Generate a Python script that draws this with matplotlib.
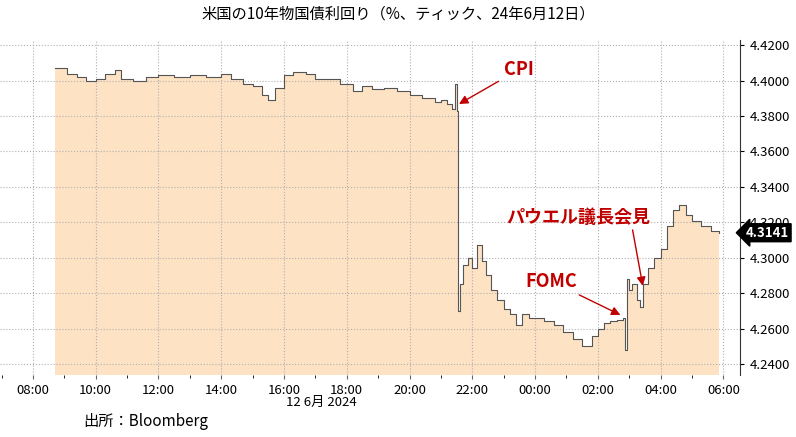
import numpy as np
import matplotlib
matplotlib.use('Agg')
from matplotlib import pyplot as plt

plt.rcParams['font.family'] = ['Noto Sans CJK JP', 'DejaVu Sans']

# hours since 00:00 on 12 Jun (values > 24 are next day)
hours = [8.7, 9.1, 9.4, 9.7, 10.0, 10.3, 10.6, 10.8, 11.2, 11.6, 12.0, 12.5, 13.0, 13.5, 14.0,
         14.3, 14.7, 15.0, 15.3, 15.5, 15.7, 16.0, 16.3, 16.7, 17.0, 17.4, 17.8, 18.2, 18.5,
         18.8, 19.2, 19.6, 20.0, 20.4, 20.8, 21.0, 21.2, 21.35, 21.45, 21.5, 21.55, 21.6,
         21.7, 21.85, 22.0, 22.15, 22.3, 22.45, 22.6, 22.8, 23.0, 23.2, 23.4, 23.6, 23.8,
         24.0, 24.3, 24.6, 24.9, 25.2, 25.5, 25.8, 26.0, 26.2, 26.4, 26.6, 26.8, 26.88,
         26.92, 27.0, 27.1, 27.25, 27.35, 27.45, 27.6, 27.8, 28.0, 28.2, 28.4, 28.6, 28.8,
         29.0, 29.3, 29.6, 29.85]
yields = [4.407, 4.404, 4.402, 4.400, 4.401, 4.404, 4.406, 4.401, 4.400, 4.402, 4.403, 4.402,
          4.403, 4.402, 4.404, 4.401, 4.398, 4.397, 4.392, 4.389, 4.396, 4.403, 4.405, 4.404,
          4.401, 4.401, 4.398, 4.394, 4.397, 4.395, 4.396, 4.394, 4.392, 4.390, 4.388, 4.389,
          4.387, 4.384, 4.398, 4.383, 4.270, 4.285, 4.296, 4.300, 4.294, 4.307, 4.298, 4.290,
          4.282, 4.276, 4.271, 4.268, 4.262, 4.268, 4.266, 4.266, 4.264, 4.262, 4.258, 4.254,
          4.250, 4.256, 4.260, 4.263, 4.264, 4.265, 4.266, 4.248, 4.288, 4.282, 4.285, 4.276,
          4.272, 4.285, 4.294, 4.300, 4.305, 4.318, 4.327, 4.330, 4.324, 4.321, 4.318, 4.315,
          4.314]
tick_hours = list(range(8, 31, 2))
tick_labels = ['%02d:00' % (h % 24) for h in tick_hours]
y_ticks = [4.24, 4.26, 4.28, 4.30, 4.32, 4.34, 4.36, 4.38, 4.40, 4.42]
last_value = 4.3141

fig = plt.figure(figsize=(7.96, 4.37), dpi=100)
ax = fig.add_axes([0.0, 0.142, 0.93, 0.766])

ax.fill_between(hours, yields, 4.0, step='post', color='#fde2c4', lw=0)
ax.step(hours, yields, where='post', color='#555555', lw=0.8)

ax.set_xlim(6.95, 30.54)
ax.set_ylim(4.2338, 4.4228)
ax.set_xticks(tick_hours)
ax.set_xticklabels(tick_labels, fontsize=9.5)
ax.set_xticks(np.arange(7, 31, 1), minor=True)
ax.yaxis.tick_right()
ax.set_yticks(y_ticks)
ax.set_yticklabels(['%.4f' % v for v in y_ticks], fontsize=9.5)
ax.grid(True, which='major', color='#b0b0b0', linestyle=':', lw=0.8)
for s in ['top', 'left', 'bottom']:
    ax.spines[s].set_visible(False)
ax.spines['right'].set_color('#333333')
ax.tick_params(axis='x', length=3, color='#666666')
ax.tick_params(axis='y', length=3)

ax.annotate('%.4f' % last_value, xy=(1.0, last_value), xycoords=('axes fraction', 'data'),
            xytext=(4, 0), textcoords='offset points', va='center', ha='left',
            fontsize=9.5, color='white', fontweight='bold',
            bbox=dict(boxstyle='larrow,pad=0.15', fc='black', ec='black'))

red = '#c00000'
ax.annotate('CPI', xy=(21.5, 4.386), xytext=(23.0, 4.403), fontsize=13, fontweight='bold',
            color=red, arrowprops=dict(arrowstyle='-|>', color=red, lw=1))
ax.annotate('FOMC', xy=(26.8, 4.267), xytext=(23.7, 4.2835), fontsize=13, fontweight='bold',
            color=red, arrowprops=dict(arrowstyle='-|>', color=red, lw=1))
ax.annotate('パウエル議長会見', xy=(27.45, 4.2825), xytext=(23.1, 4.3195), fontsize=13,
            fontweight='bold', color=red,
            arrowprops=dict(arrowstyle='-|>', color=red, lw=1,
                            shrinkA=0, relpos=(0.87, 0)))

fig.text(0.5, 0.958, '米国の10年物国債利回り（%、ティック、24年6月12日）', ha='center', fontsize=11)
fig.text(0.404, 0.072, '12 6月 2024', ha='center', fontsize=9.5)
fig.text(0.105, 0.025, '出所：Bloomberg', ha='left', fontsize=11)

fig.savefig('out.png', dpi=100)
